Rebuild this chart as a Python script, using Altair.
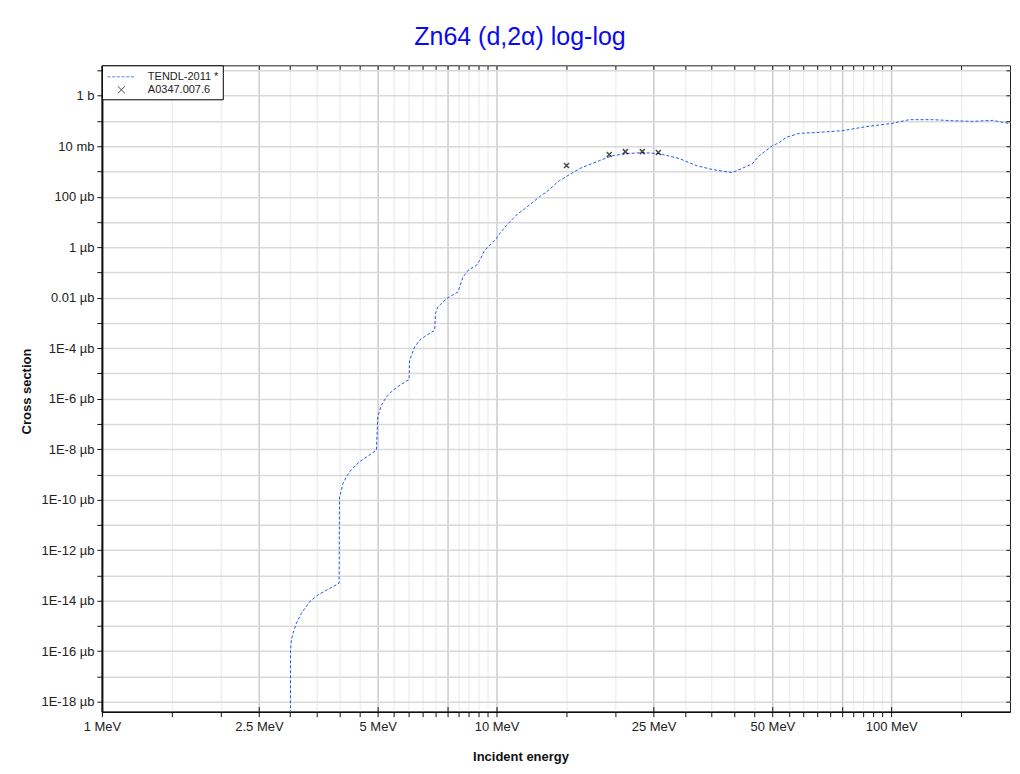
import json
import altair as alt
import pandas as pd

# ---------------- data ----------------
tendl_energy_mev = [
    3.0, 3.006, 3.022, 3.050, 3.111, 3.204, 3.363, 3.528, 3.741, 3.990,
    4.0, 4.045, 4.083, 4.164, 4.287, 4.499, 4.722, 4.961,
    5.0, 5.107, 5.258, 5.465, 5.738, 5.963,
    6.0, 6.02, 6.20, 6.38, 6.64, 6.97,
    7.0, 7.10, 7.31, 7.53, 7.98,
    8.06, 8.22, 8.46, 8.89, 9.06, 9.32, 9.51, 9.98,
    10.18, 10.58, 11.0, 11.32, 11.77, 12.36, 12.85, 13.36, 14.16, 14.44,
    16.23, 18.23, 19.67, 21.34, 23.42, 25.86, 29.06, 32.08, 35.23, 39.58,
    44.48, 46.3, 50.07, 52.06, 54.13, 58.5, 65.7, 75.3, 86.3, 100.4,
    111.1, 127.2, 143.0, 160.6, 180.5, 200.0,
]
tendl_xs_barn = [
    1e-30, 1.13e-22, 2.8e-22, 5.1e-22, 1.29e-21, 3.2e-21, 9.2e-21, 1.7e-20, 2.8e-20, 4.9e-20,
    1.3e-16, 2.4e-16, 4.4e-16, 8.1e-16, 1.58e-15, 3.2e-15, 5.3e-15, 9.2e-15,
    1.9e-13, 5.5e-13, 1.17e-12, 2.18e-12, 3.7e-12, 5.4e-12,
    5.6e-12, 3.3e-11, 1.11e-10, 2.05e-10, 3.24e-10, 5.1e-10,
    2.33e-9, 4.26e-9, 6.7e-9, 1.0e-8, 1.67e-8,
    2.63e-8, 6.5e-8, 1.2e-7, 1.9e-7, 3.0e-7, 7.4e-7, 1.0e-6, 2.16e-6,
    3.4e-6, 7.2e-6, 1.33e-5, 2.1e-5, 3.3e-5, 6.0e-5, 1.01e-4, 1.5e-4, 3.4e-4, 4.35e-4,
    1.3e-3, 2.69e-3, 4.24e-3, 5.09e-3, 5.57e-3, 5.09e-3, 3.23e-3, 1.71e-3, 1.19e-3, 9.0e-4,
    2.0e-3, 4.24e-3, 1.05e-2, 1.39e-2, 2.24e-2, 3.23e-2, 3.54e-2, 4.13e-2, 5.95e-2, 8.0e-2,
    0.1125, 0.1125, 0.1027, 0.0964, 0.1055, 0.079,
]
exp_energy_mev = [15.04, 19.3, 21.2, 23.4, 25.7]
exp_xs_barn = [1.71e-3, 4.66e-3, 6.1e-3, 6.1e-3, 5.6e-3]

series_names = ["TENDL-2011 *", "A0347.007.6"]
series_colors = ["#2458e8", "#000000"]
series_shapes = [
    "M-2,0H-1.53M-1.33,0H-0.86M-0.66,0H-0.19M0.01,0H0.48M0.68,0H1.15M1.35,0H1.82",
    "M-0.5,-0.5L0.5,0.5M-0.5,0.5L0.5,-0.5",
]

x_ticks = [1, 1.5, 2, 2.5, 3, 3.5, 4, 4.5, 5, 5.5, 6, 6.5, 7, 7.5, 8, 8.5, 9, 9.5,
           10, 15, 20, 25, 30, 35, 40, 45, 50, 55, 60, 65, 70, 75, 80, 85, 90, 95, 100, 150]
x_major = [1, 2.5, 5, 7.5, 10, 25, 50, 75, 100]
x_label_values = [1, 2.5, 5, 10, 25, 50, 100]
x_label_text = ["1 MeV", "2.5 MeV", "5 MeV", "10 MeV", "25 MeV", "50 MeV", "100 MeV"]

y_ticks = [1e1, 1e0, 1e-1, 1e-2, 1e-3, 1e-4, 1e-5, 1e-6, 1e-7, 1e-8, 1e-9, 1e-10, 1e-11,
           1e-12, 1e-13, 1e-14, 1e-15, 1e-16, 1e-17, 1e-18, 1e-19, 1e-20, 1e-21, 1e-22,
           1e-23, 1e-24]
y_label_values = [1e0, 1e-2, 1e-4, 1e-6, 1e-8, 1e-10, 1e-12, 1e-14, 1e-16, 1e-18,
                  1e-20, 1e-22, 1e-24]
y_label_text = ["1 b", "10 mb", "100 µb", "1 µb", "0.01 µb", "1E-4 µb", "1E-6 µb",
                "1E-8 µb", "1E-10 µb", "1E-12 µb", "1E-14 µb", "1E-16 µb", "1E-18 µb"]

x_domain = [1, 200]
y_domain = [4e-25, 16]

tendl_df = pd.DataFrame({"energy": tendl_energy_mev, "xs": tendl_xs_barn,
                         "series": series_names[0]})
exp_df = pd.DataFrame({"energy": exp_energy_mev, "xs": exp_xs_barn,
                       "series": series_names[1]})

FONT = "Liberation Sans"


def label_expr(values, texts):
    v = json.dumps(values)
    t = json.dumps(texts, ensure_ascii=False).replace('"', "'")
    return f"indexof({v}, datum.value) >= 0 ? {t}[indexof({v}, datum.value)] : ''"


x_major_test = f"indexof({json.dumps(x_major)}, datum.value) >= 0"

xs = alt.Scale(type="log", domain=x_domain, nice=False, zero=False)
ys = alt.Scale(type="log", domain=y_domain, nice=False, zero=False)

x_axis_main = alt.Axis(
    orient="bottom", values=x_ticks, labelExpr=label_expr(x_label_values, x_label_text),
    grid=True,
    gridColor={"condition": {"test": x_major_test, "value": "#cfcfcf"}, "value": "#ececec"},
    gridWidth={"condition": {"test": x_major_test, "value": 1.6}, "value": 1.2},
    tickSize=5, tickColor="#111", tickWidth=1, domainColor="#111", domainWidth=1.5,
    labelFont=FONT, labelFontSize=13, labelColor="#222", labelPadding=4,
    labelFlush=False, labelOverlap=False,
    title="Incident energy", titleFont=FONT, titleFontSize=13, titleFontWeight="bold",
    titleColor="#111", titleX=419, titleY=39, titleBaseline="top", titleAlign="center",
)
y_axis_main = alt.Axis(
    orient="left", values=y_ticks, labelExpr=label_expr(y_label_values, y_label_text),
    grid=True, gridColor="#d9d9d9", gridWidth=1.5,
    tickSize=5, tickColor="#111", tickWidth=1, domainColor="#111", domainWidth=2,
    labelFont=FONT, labelFontSize=13, labelColor="#222", labelPadding=3,
    labelFlush=False, labelOverlap=False,
    title="Cross section", titleFont=FONT, titleFontSize=13, titleFontWeight="bold",
    titleColor="#111", titleX=-71, titleY=326, titleBaseline="alphabetic",
    titleAlign="center", titleAngle=270,
)

legend = alt.Legend(
    title=None, orient="top-left", offset=0, padding=4, strokeColor="#000",
    fillColor="white", symbolSize=196, symbolOffset=8, labelOffset=19, rowPadding=0,
    labelFont=FONT, labelFontSize=11, labelColor="#222", symbolStrokeWidth=1,
)

line = alt.Chart(tendl_df).mark_line(
    color=series_colors[0], strokeWidth=1, strokeDash=[3, 2], clip=True
).encode(
    x=alt.X("energy:Q", scale=xs, axis=x_axis_main),
    y=alt.Y("xs:Q", scale=ys, axis=y_axis_main),
    order=alt.Order("energy:Q"),
)

points = alt.Chart(exp_df).mark_point(filled=False, strokeWidth=1.5, clip=True).encode(
    x=alt.X("energy:Q", scale=xs, axis=None),
    y=alt.Y("xs:Q", scale=ys, axis=None),
    color=alt.Color("series:N", scale=alt.Scale(domain=series_names, range=series_colors),
                    legend=legend),
    shape=alt.Shape("series:N", scale=alt.Scale(domain=series_names, range=series_shapes),
                    legend=legend),
    size=alt.value(100),
)

frame = alt.Chart(exp_df).mark_point(opacity=0).encode(
    x=alt.X("energy:Q", scale=xs, axis=alt.Axis(
        orient="top", values=x_ticks, labels=False, domain=False, grid=False,
        tickSize=4, offset=-4, tickColor="#111", title=None)),
    y=alt.Y("xs:Q", scale=ys, axis=alt.Axis(
        orient="right", values=y_ticks, labels=False, domain=False, grid=False,
        tickSize=4, offset=-4, tickColor="#111", title=None)),
)

inner = alt.Chart(exp_df).mark_point(opacity=0).encode(
    x=alt.X("energy:Q", scale=xs, axis=alt.Axis(
        orient="bottom", values=x_major, labels=False, domain=False, grid=False,
        tickSize=5, offset=-5, tickColor="#111", title=None)),
    y=alt.Y("xs:Q", scale=ys, axis=None),
)

chart = alt.layer(line, points, frame, inner).resolve_axis(
    x="independent", y="independent"
).properties(
    width=909, height=647,
    padding={"left": 94, "top": 57, "right": 2, "bottom": 54},
    autosize=alt.AutoSizeParams(type="none"),
    title=alt.Title("Zn64 (d,2α) log-log", font=FONT, fontSize=25, fontWeight="normal",
                    color="#0a0aee", anchor="middle", frame="group", dx=-36, dy=27,
                    offset=21, baseline="alphabetic"),
    background="white",
).configure_view(stroke="#222", strokeWidth=1)

chart.save("out.html", embed_options={"renderer": "svg", "actions": False})
